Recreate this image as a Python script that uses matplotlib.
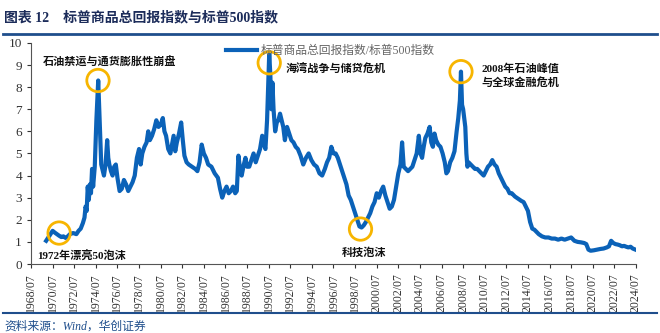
import matplotlib.pyplot as plt

# 标普商品总回报指数 / 标普500指数
years = [
    1969.9, 1970.1, 1970.3, 1970.5, 1970.7, 1970.9, 1971.1, 1971.3, 1971.5, 1971.7,
    1971.9, 1972.1, 1972.4, 1972.7, 1972.9, 1973.1, 1973.3, 1973.45, 1973.55, 1973.65,
    1973.75, 1973.85, 1973.95, 1974.05, 1974.15, 1974.25, 1974.4, 1974.55, 1974.65, 1974.72,
    1974.8, 1974.9, 1975.0, 1975.1, 1975.25, 1975.4, 1975.55, 1975.65, 1975.75, 1975.9,
    1976.05, 1976.2, 1976.35, 1976.5, 1976.7, 1976.9, 1977.1, 1977.3, 1977.5, 1977.7,
    1977.9, 1978.1, 1978.3, 1978.5, 1978.65, 1978.8, 1979.0, 1979.2, 1979.35, 1979.5,
    1979.7, 1979.9, 1980.1, 1980.3, 1980.5, 1980.7, 1980.85, 1981.0, 1981.2, 1981.4,
    1981.55, 1981.7, 1981.85, 1982.0, 1982.2, 1982.4, 1982.55, 1982.7, 1982.9, 1983.1,
    1983.4, 1983.7, 1983.9, 1984.1, 1984.3, 1984.5, 1984.7, 1984.9, 1985.2, 1985.5,
    1985.8, 1986.0, 1986.2, 1986.4, 1986.6, 1986.8, 1987.0, 1987.2, 1987.4, 1987.55,
    1987.7, 1987.85, 1988.0, 1988.2, 1988.35, 1988.5, 1988.7, 1988.9, 1989.1, 1989.3,
    1989.5, 1989.7, 1989.9, 1990.05, 1990.2, 1990.35, 1990.45, 1990.55, 1990.65, 1990.75,
    1990.85, 1990.95, 1991.1, 1991.25, 1991.4, 1991.55, 1991.7, 1991.85, 1992.0, 1992.2,
    1992.4, 1992.6, 1992.8, 1993.0, 1993.2, 1993.45, 1993.7, 1993.95, 1994.2, 1994.45,
    1994.7, 1994.95, 1995.2, 1995.45, 1995.7, 1995.9, 1996.1, 1996.3, 1996.5, 1996.7,
    1996.9, 1997.1, 1997.3, 1997.5, 1997.7, 1997.9, 1998.1, 1998.3, 1998.5, 1998.7,
    1998.9, 1999.1, 1999.3, 1999.5, 1999.7, 1999.9, 2000.1, 2000.3, 2000.5, 2000.7,
    2000.9, 2001.1, 2001.3, 2001.5, 2001.7, 2001.9, 2002.1, 2002.3, 2002.5, 2002.7,
    2002.85, 2003.0, 2003.2, 2003.4, 2003.6, 2003.8, 2004.0, 2004.2, 2004.4, 2004.55,
    2004.7, 2004.85, 2005.0, 2005.2, 2005.4, 2005.55, 2005.7, 2005.85, 2006.0, 2006.2,
    2006.4, 2006.6, 2006.8, 2006.95, 2007.1, 2007.3, 2007.5, 2007.7, 2007.9, 2008.05,
    2008.2, 2008.3, 2008.4, 2008.5, 2008.6, 2008.7, 2008.8, 2008.9, 2009.0, 2009.2,
    2009.4, 2009.6, 2009.8, 2010.0, 2010.2, 2010.4, 2010.6, 2010.8, 2011.0, 2011.2,
    2011.4, 2011.6, 2011.8, 2012.0, 2012.2, 2012.4, 2012.6, 2012.8, 2013.0, 2013.3,
    2013.6, 2013.9, 2014.1, 2014.3, 2014.5, 2014.7, 2014.9, 2015.1, 2015.3, 2015.5,
    2015.8, 2016.1, 2016.4, 2016.7, 2017.0, 2017.3, 2017.6, 2017.9, 2018.2, 2018.5,
    2018.8, 2019.1, 2019.4, 2019.7, 2019.9, 2020.1, 2020.3, 2020.6, 2020.9, 2021.2,
    2021.5, 2021.8, 2022.0, 2022.2, 2022.4, 2022.6, 2022.8, 2023.0, 2023.2, 2023.4,
    2023.6, 2023.8, 2024.0, 2024.2, 2024.4,
]
ratio = [
    1.05, 1.2, 1.35, 1.5, 1.42, 1.35, 1.28, 1.22, 1.25, 1.18,
    1.25, 1.35, 1.4, 1.35, 1.5, 1.6, 1.85, 2.1, 2.6, 2.4,
    3.5, 2.9, 3.6, 3.2, 4.3, 3.5, 4.4, 6.5, 7.5, 8.3,
    7.2, 5.8, 4.5, 4.3, 4.0, 4.5, 5.6, 4.8, 4.5, 4.2,
    4.0, 4.4, 4.5, 3.9, 3.3, 3.4, 3.8, 3.6, 3.3, 3.5,
    3.7, 4.0, 4.8, 5.2, 4.5, 5.0, 5.3, 5.5, 6.0, 5.6,
    5.8, 6.1, 6.5, 6.2, 6.3, 6.6, 6.0, 5.8, 5.2, 5.0,
    5.4, 5.8, 5.1, 5.5, 5.9, 6.4, 5.6, 4.9, 4.6, 4.5,
    4.4, 4.3, 4.2, 4.6, 5.4, 5.0, 4.8, 4.5, 4.4, 4.1,
    3.9, 3.4, 3.0, 3.3, 3.5, 3.2, 3.3, 3.5, 3.2, 3.3,
    4.9, 4.3, 4.0, 4.5, 4.8, 4.4, 4.4, 4.7, 5.0, 4.6,
    4.9, 5.2, 5.8, 5.4, 5.2, 6.5, 8.0, 9.5, 8.6, 7.0,
    8.2, 7.0, 6.0, 6.4, 6.5, 6.8, 6.5, 6.2, 5.6, 6.2,
    5.9, 5.6, 5.5, 5.3, 5.2, 4.9, 4.5, 4.8, 5.0, 4.7,
    4.5, 4.4, 4.1, 4.0, 4.3, 4.6, 4.8, 5.3, 5.0, 5.0,
    4.8, 4.5, 4.2, 3.9, 3.6, 3.1, 2.9, 2.6, 2.3, 2.0,
    1.7, 1.65, 1.75, 1.9, 2.1, 2.3, 2.6, 2.8, 3.2, 3.0,
    3.3, 3.5, 3.1, 2.8, 2.5, 2.6, 2.9, 3.5, 4.1, 4.5,
    5.5, 4.4, 4.3, 4.2, 4.3, 4.4, 4.7, 5.0, 5.8, 5.0,
    4.8, 5.3, 5.7, 5.9, 6.2, 5.5, 5.3, 5.9, 5.6, 5.4,
    5.3, 5.0, 4.6, 4.1, 4.2, 4.6, 4.8, 5.1, 6.0, 6.6,
    7.4, 8.7, 7.2, 7.0, 6.6, 6.2, 5.0, 4.4, 4.6, 4.5,
    4.4, 4.3, 4.3, 4.2, 4.1, 4.0, 4.2, 4.4, 4.5, 4.7,
    4.5, 4.4, 4.1, 3.9, 3.7, 3.5, 3.4, 3.2, 3.2, 3.05,
    2.95, 2.85, 2.8, 2.6, 2.4, 1.9, 1.6, 1.55, 1.45, 1.35,
    1.25, 1.2, 1.2, 1.15, 1.15, 1.1, 1.15, 1.1, 1.15, 1.2,
    1.05, 1.0, 0.98, 0.95, 0.9, 0.65, 0.6, 0.62, 0.65, 0.68,
    0.7, 0.75, 0.8, 1.05, 0.95, 0.9, 0.88, 0.85, 0.8, 0.82,
    0.78, 0.75, 0.78, 0.7, 0.66,
]

tick_years = list(range(1968, 2025, 2))
tick_labels = [f"{y}/07" for y in tick_years]

# 橙色圆圈标注位置
circles_x = [1971.1, 1974.7, 1990.55, 2008.3, 1999.0]
circles_y = [1.4, 8.3, 9.1, 8.7, 1.58]

plt.rcParams['font.family'] = ['Liberation Serif', 'Noto Sans CJK SC', 'DejaVu Sans']
cjk = ['Liberation Serif', 'Noto Sans CJK SC']

fig = plt.figure(figsize=(6.6, 3.33), dpi=100)
ax = fig.add_axes([0.047, 0.2072, 0.9166, 0.664])

ax.plot(years, ratio, color='#0b62b8', lw=3.0, label='标普商品总回报指数/标普500指数')
ax.scatter(circles_x, circles_y, s=260, facecolors='none', edgecolors='#f7b500',
           linewidths=2.0, zorder=5)

ax.set_xlim(1968.5, 2024.5)
ax.set_ylim(0, 10)
ax.set_yticks(range(0, 11))
ax.set_xticks([y + 0.5 for y in tick_years])
ax.set_xticklabels(tick_labels, rotation=90, fontsize=8.5, color='#333333')
ax.tick_params(axis='y', labelsize=9.5, length=3, colors='#333333')
ax.tick_params(axis='x', length=3, colors='#333333')
for s in ['top', 'right']:
    ax.spines[s].set_visible(False)
for s in ['left', 'bottom']:
    ax.spines[s].set_color('#555555')

kw = dict(fontsize=8, fontweight='bold', color='#111111', family=cjk, va='center')
ax.text(1969.6, 9.15, '石油禁运与通货膨胀性崩盘', **kw)
ax.text(1969.1, 0.33, '1972年漂亮50泡沫', **kw)
ax.text(1992.1, 8.85, '海湾战争与储贷危机', **kw)
ax.text(2010.2, 8.85, '2008年石油峰值', **kw)
ax.text(2010.2, 8.2, '与全球金融危机', **kw)
ax.text(1997.3, 0.5, '科技泡沫', **kw)

leg = ax.legend(loc='upper left', bbox_to_anchor=(0.305, 1.04), frameon=False,
                handlelength=2.6, handletextpad=0.3, prop={'family': cjk, 'size': 8.5})
for t in leg.get_texts():
    t.set_color('#666666')

fig.text(0.006, 0.947, '图表 12    标普商品总回报指数与标普500指数', fontsize=10,
         fontweight='bold', color='#1c2c5a', family=cjk, va='center')
fig.add_artist(plt.Line2D([0.005, 0.995], [0.897, 0.897], color='#1f4e8c', lw=2))
fig.add_artist(plt.Line2D([0.005, 0.995], [0.06, 0.06], color='#1f4e8c', lw=1.5))
fig.text(0.006, 0.02, '资料来源：Wind，华创证券', fontsize=8.5, style='italic',
         color='#1f4e8c', family=cjk, va='center')

plt.savefig('out.png', dpi=100)
